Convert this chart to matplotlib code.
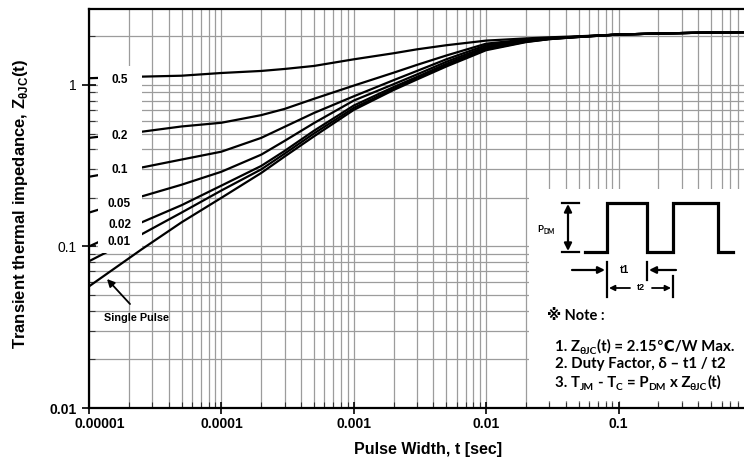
import matplotlib
matplotlib.use("Agg")
import matplotlib.pyplot as plt
import numpy as np
from matplotlib.patches import Rectangle
from matplotlib.lines import Line2D
from matplotlib.text import Annotation
from matplotlib.ticker import LogLocator, NullFormatter
from matplotlib.transforms import ScaledTranslation

plt.rcParams["font.family"] = ["Liberation Sans", "DejaVu Sans"]

W, H = 744, 473

# pulse width [s]
t = [1e-5, 2.5e-5, 5e-5, 1e-4, 2e-4, 3e-4, 5e-4, 1e-3, 2e-3, 3e-3, 5e-3,
     1e-2, 2e-2, 3e-2, 5e-2, 0.1, 0.2, 0.5, 0.887]

# Z(t), one list per duty factor
z_05 = [1.10, 1.125, 1.14, 1.185, 1.22, 1.255, 1.31, 1.44, 1.57, 1.66, 1.76,
        1.88, 1.94, 1.97, 2.00, 2.05, 2.08, 2.11, 2.12]
z_02 = [0.47, 0.513, 0.553, 0.583, 0.65, 0.71, 0.82, 0.99, 1.19, 1.33, 1.52,
        1.80, 1.91, 1.95, 1.99, 2.05, 2.08, 2.11, 2.12]
z_01 = [0.27, 0.308, 0.345, 0.386, 0.47, 0.55, 0.67, 0.85, 1.07, 1.22, 1.44,
        1.76, 1.89, 1.94, 1.99, 2.05, 2.08, 2.11, 2.12]
z_005 = [0.162, 0.204, 0.241, 0.29, 0.37, 0.45, 0.58, 0.80, 1.01, 1.16, 1.39,
         1.72, 1.87, 1.93, 1.99, 2.05, 2.08, 2.11, 2.12]
z_002 = [0.10, 0.141, 0.18, 0.238, 0.315, 0.39, 0.52, 0.745, 0.97, 1.12, 1.35,
         1.69, 1.86, 1.93, 1.98, 2.05, 2.08, 2.11, 2.12]
z_001 = [0.081, 0.119, 0.162, 0.222, 0.30, 0.375, 0.50, 0.72, 0.945, 1.10, 1.32,
         1.66, 1.85, 1.92, 1.98, 2.05, 2.08, 2.11, 2.12]
z_single = [0.0566, 0.096, 0.141, 0.20, 0.285, 0.36, 0.48, 0.70, 0.93, 1.08, 1.30,
            1.64, 1.84, 1.92, 1.98, 2.05, 2.08, 2.11, 2.12]

duty_labels = ["0.5", "0.2", "0.1", "0.05", "0.02", "0.01"]
duty_curves = [z_05, z_02, z_01, z_005, z_002, z_001]
label_z = [1.074, 0.485, 0.299, 0.184, 0.135, 0.106]

x_ticks = [1e-5, 1e-4, 1e-3, 1e-2, 1e-1]
x_ticklabels = ["0.00001", "0.0001", "0.001", "0.01", "0.1"]
y_ticks = [0.01, 0.1, 1]
y_ticklabels = ["0.01", "0.1", "1"]


def fx(x):
    return np.asarray(x) / W


def fy(y):
    return 1 - np.asarray(y) / H


fig = plt.figure(figsize=(W / 100, H / 100), dpi=100)
ax = fig.add_axes([89 / W, 1 - 408 / H, (W - 89) / W, (408 - 9) / H])
ax.set_xscale("log")
ax.set_yscale("log")
ax.set_xlim(1e-5, 0.887)
ax.set_ylim(0.01, 2.95)

ax.grid(True, which="both", color="#9c9c9c", lw=0.9)
ax.set_axisbelow(True)
ax.xaxis.set_minor_locator(LogLocator(base=10, subs=np.arange(2, 10)))
ax.yaxis.set_minor_locator(LogLocator(base=10, subs=np.arange(2, 10)))
ax.xaxis.set_minor_formatter(NullFormatter())
ax.yaxis.set_minor_formatter(NullFormatter())
ax.set_xticks(x_ticks, x_ticklabels)
ax.set_yticks(y_ticks, y_ticklabels)
ax.tick_params(axis="x", which="major", direction="inout", length=9, width=1.2,
               labelsize=10, pad=2)
ax.tick_params(axis="y", which="major", direction="inout", length=10, width=1.2,
               labelsize=10, pad=4)
ax.tick_params(which="minor", direction="in", length=4.3, width=0.8, color="#333333")
for lbl in ax.get_xticklabels():
    lbl.set_fontweight("bold")
ax.get_yticklabels()[0].set_fontweight("bold")
first = ax.get_xticklabels()[0]
first.set_transform(first.get_transform() + ScaledTranslation(0.11, 0, fig.dpi_scale_trans))

for s in ["left", "bottom", "top"]:
    ax.spines[s].set_linewidth(1.6)
ax.spines["right"].set_visible(False)

for z in duty_curves:
    ax.plot(t, z, color="black", lw=1.6, zorder=2)
ax.plot(t, z_single, color="black", lw=1.6, zorder=3)

# blank strip where the duty labels sit
ax.add_patch(Rectangle((fx(98), fy(253)), (142 - 98) / W, (253 - 66) / H,
                       transform=fig.transFigure, fc="white", ec="none", zorder=2.4))
for lbl, zl in zip(duty_labels, label_z):
    ax.text(1.70e-5, zl, lbl, ha="center", va="center", fontsize=8.5,
            fontweight="bold", zorder=4)

fig.text(fx(137), fy(318), "Single Pulse", ha="center", va="center",
         fontsize=7.8, fontweight="bold")
fig.add_artist(Annotation(
    "", xy=(fx(107), fy(279)), xytext=(fx(130), fy(304)),
    xycoords="figure fraction", textcoords="figure fraction",
    arrowprops=dict(arrowstyle="-|>", color="black", lw=1.3, mutation_scale=11,
                    shrinkA=0, shrinkB=0)))

ax.set_xlabel("Pulse Width, t [sec]", fontsize=11.5, fontweight="bold")
ax.xaxis.set_label_coords((428 - 89) / (W - 89), (408 - 442) / 399)
ax.set_ylabel("Transient thermal impedance, Z$_{\\mathregular{θJC}}$(t)",
              fontsize=12, fontweight="bold")
ax.yaxis.set_label_coords((30 - 89) / (W - 89), (408 - 204) / 399)

# ---- inset: pulse diagram and notes ----
fig.add_artist(Rectangle((fx(529), fy(401)), (W - 529) / W, (401 - 189) / H,
                         transform=fig.transFigure, fc="white", ec="none", zorder=1))

wx = [585, 607, 607, 647, 647, 673, 673, 718, 718, 733]
wy = [252, 252, 203, 203, 252, 252, 203, 203, 252, 252]
fig.add_artist(Line2D(fx(wx), fy(wy), lw=2.3, color="black", zorder=2,
                      transform=fig.transFigure, solid_joinstyle="miter"))


def seg(x0, y0, x1, y1, lw=1.6):
    fig.add_artist(Line2D(fx([x0, x1]), fy([y0, y1]), lw=lw, color="black",
                          zorder=2, transform=fig.transFigure))


def arrow(x0, y0, x1, y1, style="-|>", ms=10, lw=1.6):
    fig.add_artist(Annotation(
        "", xy=(fx(x1), fy(y1)), xytext=(fx(x0), fy(y0)),
        xycoords="figure fraction", textcoords="figure fraction", zorder=3,
        arrowprops=dict(arrowstyle=style, color="black", lw=lw,
                        mutation_scale=ms, shrinkA=0, shrinkB=0)))


seg(562, 203, 579, 203)
seg(562, 252, 579, 252)
arrow(568, 204, 568, 251, style="<|-|>", ms=11)
seg(607, 262, 607, 297)
seg(647, 262, 647, 280)
seg(673, 276, 673, 297)
arrow(572, 270, 605, 270)
arrow(676, 270, 649, 270)
arrow(630, 288, 609, 288, ms=8, lw=1.3)
arrow(652, 288, 671, 288, ms=8, lw=1.3)

note_fam = ["Lato", "DejaVu Sans", "Noto Sans CJK JP"]


def rich(x, y, parts, size):
    r = fig.canvas.get_renderer()
    sp = 0.25 * size * 100 / 72
    cx = x
    for s, sub in parts:
        fs = size * 0.68 if sub else size
        dy = size * 0.22 * 100 / 72 if sub else 0
        cx += (len(s) - len(s.lstrip(" "))) * sp
        body = s.strip(" ")
        tx = fig.text(fx(cx), fy(y + dy), body, fontsize=fs, family=note_fam,
                      fontweight="bold", ha="left", va="baseline", zorder=3)
        cx += tx.get_window_extent(r).width
        cx += (len(s) - len(s.rstrip(" "))) * sp


rich(537, 232, [("P", 0), ("DM", 1)], 7)
fig.text(fx(625), fy(270), "t1", ha="center", va="center", fontsize=7.5,
         fontweight="bold", zorder=3)
fig.text(fx(641), fy(288), "t2", ha="center", va="center", fontsize=6.5,
         fontweight="bold", zorder=3)

rich(547, 320, [("※ Note :", 0)], 10.5)
rich(555, 351, [("1. Z", 0), ("θJC", 1), ("(t) = 2.15℃/W Max.", 0)], 10.8)
rich(555, 368, [("2. Duty Factor, δ – t1 / t2", 0)], 10.8)
rich(555, 387, [("3. T", 0), ("JM", 1), (" - T", 0), ("C", 1), (" = P", 0),
                ("DM", 1), (" x Z", 0), ("θJC", 1), ("(t)", 0)], 10.8)

fig.savefig("out.png", dpi=100)
